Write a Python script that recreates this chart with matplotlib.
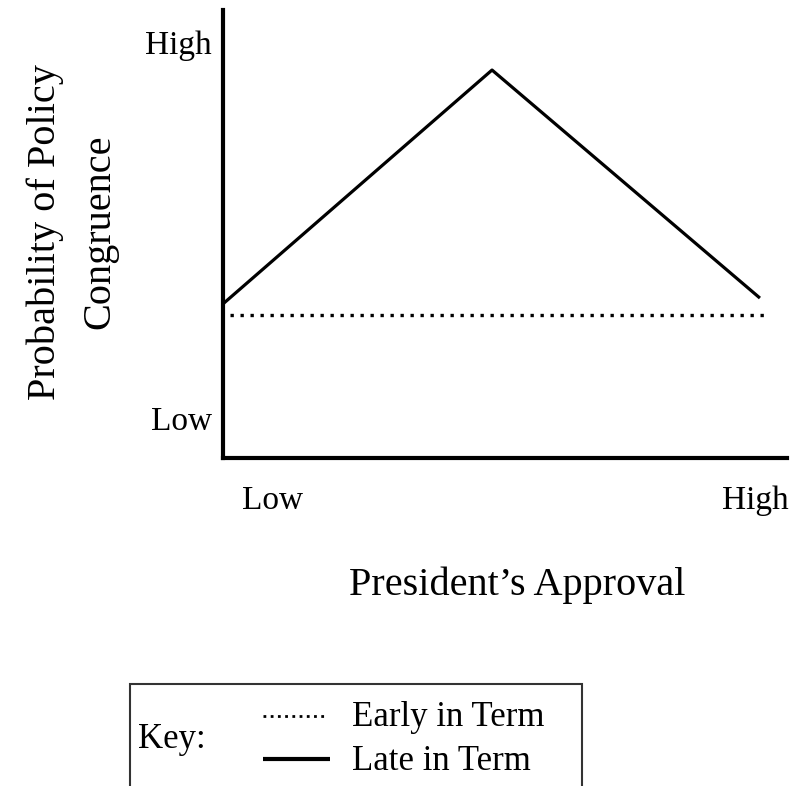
import matplotlib.pyplot as plt
from matplotlib.lines import Line2D
from matplotlib.patches import Rectangle

# approval on x (0 = low, 1 = high), congruence on y (0 = low, 1 = high)
late_x = [0.0, 0.477, 0.952]
late_y = [0.344, 0.866, 0.357]
early_x = [0.012, 0.965]
early_y = [0.319, 0.319]

x_ticks = [0.087, 0.943]
x_tick_labels = ["Low", "High"]
y_ticks = [0.089, 0.929]
y_tick_labels = ["Low", "High"]

plt.rcParams["font.family"] = ["Liberation Serif", "DejaVu Serif"]

W, H = 807, 786
fig = plt.figure(figsize=(W / 100, H / 100), dpi=100)
ax = fig.add_axes([223 / W, 1 - 458 / H, (787 - 223) / W, (458 - 10) / H])
ax.set_xlim(0, 1)
ax.set_ylim(0, 1)

ax.plot(late_x, late_y, color="black", lw=2.3, solid_capstyle="butt")
ax.plot(early_x, early_y, color="black", lw=2.4, linestyle=(0, (1, 2.0)))

for side in ["top", "right"]:
    ax.spines[side].set_visible(False)
for side in ["left", "bottom"]:
    ax.spines[side].set_linewidth(3)

ax.set_xticks(x_ticks, x_tick_labels, fontsize=24)
ax.set_yticks(y_ticks, y_tick_labels, fontsize=24)
ax.tick_params(axis="x", length=0, pad=20)
ax.tick_params(axis="y", length=0, pad=8)

fig.text(517 / W, 1 - 585 / H, "President\u2019s Approval", fontsize=29,
         ha="center", va="center")
fig.text(45 / W, 1 - 232 / H, "Probability of Policy", fontsize=29,
         rotation=90, ha="center", va="center")
fig.text(100 / W, 1 - 232 / H, "Congruence", fontsize=29,
         rotation=90, ha="center", va="center")

# key box, cut off by the bottom of the figure
fig.add_artist(Rectangle((130 / W, -0.05), (582 - 130) / W, 0.05 + (786 - 684) / H,
                         transform=fig.transFigure, fill=False, lw=1.5,
                         edgecolor="#333333", clip_on=False))
fig.text(172 / W, 1 - 740 / H, "Key:", fontsize=25, ha="center", va="center")
fig.add_artist(Line2D([263 / W, 327 / W], [1 - 716 / H] * 2, transform=fig.transFigure,
                      color="black", lw=2.0, linestyle=(0, (1, 1.6))))
fig.add_artist(Line2D([263 / W, 330 / W], [1 - 759 / H] * 2, transform=fig.transFigure,
                      color="black", lw=3, solid_capstyle="butt"))
fig.text(352 / W, 1 - 718 / H, "Early in Term", fontsize=25, ha="left", va="center")
fig.text(352 / W, 1 - 761 / H, "Late in Term", fontsize=25, ha="left", va="center")

fig.savefig("out.png", dpi=100)
